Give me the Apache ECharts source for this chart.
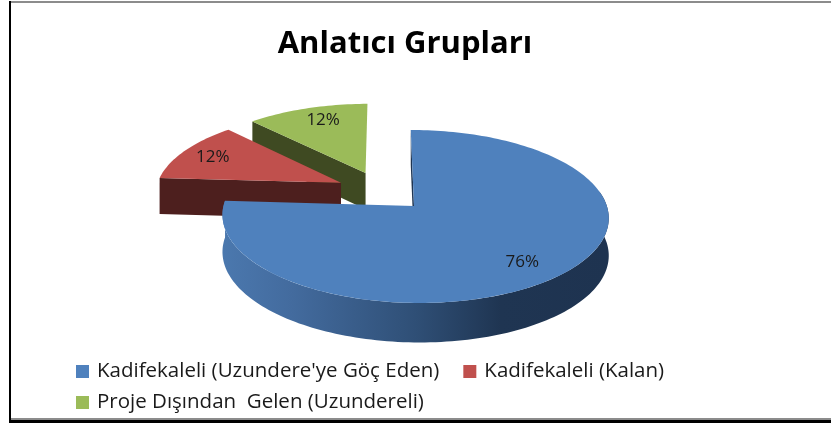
<!DOCTYPE html>
<html>
<head>
<meta charset="utf-8">
<style>html,body{margin:0;padding:0;background:#fff}#c{width:831px;height:423px}</style>
<script src="https://cdn.jsdelivr.net/npm/echarts@6/dist/echarts.min.js"></script>
</head>
<body>
<div id="c"></div>
<script>
const categories = ["Kadifekaleli (Uzundere'ye Göç Eden)", "Kadifekaleli (Kalan)", "Proje Dışından  Gelen (Uzundereli)"];
const values = [76, 12, 12];
const topColors = ['#4f81bd', '#c0504d', '#9bbb59'];
const cutColors = ['#1f3552', '#4d1f1e', '#3f4a22'];
const title = 'Anlatıcı Grupları';
const FONT = '"Open Sans"';

// Projection of the tilted pie (ground plane -> screen).
const view = { cx: 414, cy: 206, sx: 191.5, sy: 85.2, k: 0.1214, m: -0.006, vpShift: -30, depth: 37, explode: 0.245 };
const labelOffset = [[0.51, -0.61], [-0.735, 0.335], [-0.262, 0.743]];

const total = values.reduce((a, b) => a + b, 0);
const spans = [];
let acc = 0;
values.forEach(v => { const a0 = acc / total * 2 * Math.PI; acc += v; spans.push([a0, acc / total * 2 * Math.PI]); });
const mid0 = (spans[0][0] + spans[0][1]) / 2;
const origin = [view.explode * Math.sin(mid0), view.explode * Math.cos(mid0)];

function project(u, v, down) {
  const w = 1 + view.k * v + view.m * u;
  return [
    view.cx + view.sx * u / w + view.vpShift * (1 - 1 / w),
    view.cy - view.sy * v / w + (down ? view.depth / Math.sqrt(w) : 0)
  ];
}
function sliceCenter(i) {
  const mid = (spans[i][0] + spans[i][1]) / 2;
  return [view.explode * Math.sin(mid) - origin[0], view.explode * Math.cos(mid) - origin[1]];
}
function rim(i, a, down) {
  const c = sliceCenter(i);
  return project(c[0] + Math.sin(a), c[1] + Math.cos(a), down);
}
function arc(i, a0, a1, down) {
  const n = Math.max(2, Math.ceil(Math.abs(a1 - a0) * 40));
  const pts = [];
  for (let j = 0; j <= n; j++) pts.push(rim(i, a0 + (a1 - a0) * j / n, down));
  return pts;
}

const order = [2, 1, 0];
function renderSlice(params, api) {
  const idx = order[params.seriesIndex];
  const [a0, a1] = spans[idx];
  const c = sliceCenter(idx);
  const apex = project(c[0], c[1], false);
  const apexD = project(c[0], c[1], true);
  const children = [];
  if (idx === 0) {
    // right cut face (thin sliver seen next to the notch)
    children.push({ type: 'polygon', shape: { points: [apex, rim(0, a0, false), rim(0, a0, true), apexD] },
      style: { fill: cutColors[0] } });
    // outer cylindrical wall
    const from = 80 * Math.PI / 180;
    const wall = arc(0, from, a1, false).concat(arc(0, a1, from, true));
    children.push({ type: 'polygon', shape: { points: wall }, style: { fill: {
      type: 'linear', x: 0, y: 0, x2: 1, y2: 0,
      colorStops: [
        { offset: 0, color: '#4b78ae' }, { offset: 0.18, color: '#436b9e' },
        { offset: 0.5, color: '#2f4f76' }, { offset: 0.72, color: '#1f3552' }, { offset: 1, color: '#1e3350' }
      ] } } });
  } else {
    // cut face on the trailing edge, visible on the exploded slices
    children.push({ type: 'polygon', shape: { points: [apex, rim(idx, a0, false), rim(idx, a0, true), apexD] },
      style: { fill: cutColors[idx] } });
  }
  const top = [apex].concat(arc(idx, a0, a1, false));
  children.push({ type: 'polygon', shape: { points: top }, style: { fill: topColors[idx] } });
  const lp = project(c[0] + labelOffset[idx][0], c[1] + labelOffset[idx][1], false);
  children.push({ type: 'text', style: {
    text: api.value(0) + '%', x: lp[0], y: lp[1], align: 'center', verticalAlign: 'middle',
    font: '17px ' + FONT, fill: '#1a1a1a' } });
  return { type: 'group', children };
}

const option = {
  animation: false,
  backgroundColor: '#fff',
  title: { text: title, left: 400, top: 24, textAlign: 'center',
    textStyle: { fontFamily: FONT, fontWeight: 'bold', fontSize: 31, color: '#000' } },
  legend: [
    { data: categories.slice(0, 2), left: 71, top: 356, itemWidth: 13, itemHeight: 13, itemGap: 24, icon: 'rect',
      textStyle: { fontFamily: FONT, fontSize: 20.5, color: '#1a1a1a', padding: [0, 0, 0, 3] }, selectedMode: false },
    { data: categories.slice(2), left: 71, top: 387, itemWidth: 13, itemHeight: 13, icon: 'rect',
      textStyle: { fontFamily: FONT, fontSize: 20.5, color: '#1a1a1a', padding: [0, 0, 0, 3] }, selectedMode: false }
  ],
  graphic: [
    { type: 'rect', shape: { x: 9, y: 1, width: 822, height: 2 }, style: { fill: '#8c8c8c' } },
    { type: 'rect', shape: { x: 11, y: 418, width: 820, height: 2 }, style: { fill: '#8c8c8c' } },
    { type: 'rect', shape: { x: 9, y: 420, width: 822, height: 3 }, style: { fill: '#000' } },
    { type: 'rect', shape: { x: 9, y: 1, width: 2, height: 421 }, style: { fill: '#000' } }
  ],
  series: order.map(i => ({
    type: 'custom', name: categories[i], coordinateSystem: 'none', silent: true,
    itemStyle: { color: topColors[i] }, data: [[values[i]]], renderItem: renderSlice
  }))
};
const chart = echarts.init(document.getElementById('c'), null, { renderer: 'canvas' });
chart.setOption(option);
</script>
</body>
</html>
